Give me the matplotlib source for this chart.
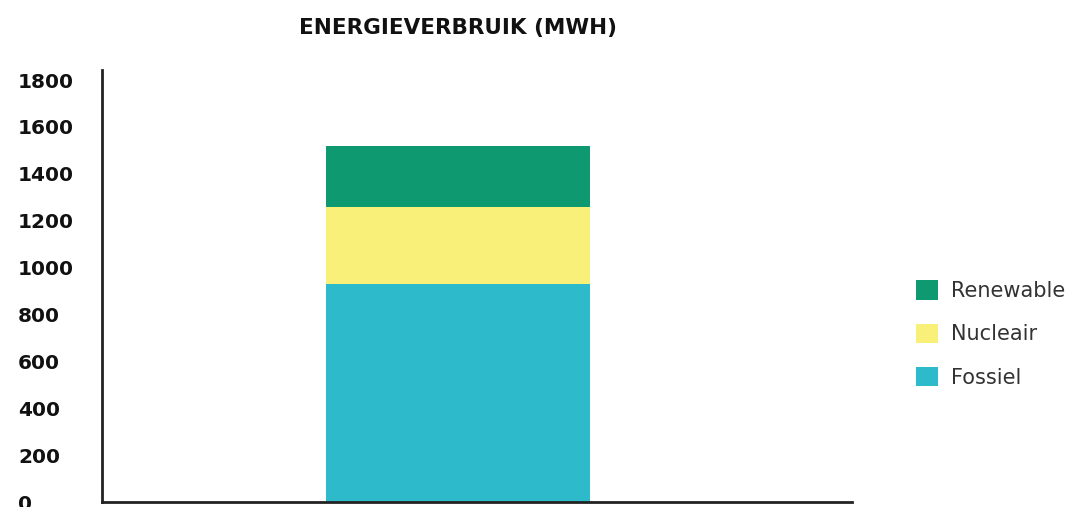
import matplotlib
matplotlib.use("Agg")
import matplotlib.pyplot as plt
from matplotlib.patches import Patch

categories = ["Energieverbruik"]
series_names = ["Fossiel", "Nucleair", "Renewable"]
fossiel = [930]
nucleair = [330]
renewable = [260]
colors = ["#2dbbcb", "#f8f078", "#0f9971"]
yticks = [0, 200, 400, 600, 800, 1000, 1200, 1400, 1600, 1800]

W, H = 1091, 507
fig = plt.figure(figsize=(W / 100, H / 100), dpi=100)
ax = fig.add_axes([102 / W, 5 / H, 750 / W, 432 / H])

bottom = [0] * len(categories)
handles = []
for name, vals, col in zip(series_names, [fossiel, nucleair, renewable], colors):
    ax.bar(range(len(categories)), vals, width=0.6, bottom=bottom, color=col, linewidth=0)
    bottom = [b + v for b, v in zip(bottom, vals)]
    handles.append(Patch(facecolor=col, edgecolor="none", label=name))

ax.set_xlim(-0.809, 0.895)
ax.set_ylim(0, 1843)
ax.set_xticks([])
ax.set_yticks(yticks)
ax.set_yticklabels([str(t) for t in yticks], fontfamily="DejaVu Sans", fontweight="bold",
                   fontsize=14.5, color="#111111")
ax.tick_params(axis="y", length=0, pad=60.5)
for lab in ax.get_yticklabels():
    lab.set_horizontalalignment("left")
for s in ["top", "right"]:
    ax.spines[s].set_visible(False)
for s in ["left", "bottom"]:
    ax.spines[s].set_linewidth(2)
    ax.spines[s].set_color("#222222")

fig.text(458 / W, 1 - 28 / H, "ENERGIEVERBRUIK (MWH)", ha="center", va="center",
         fontfamily="DejaVu Sans", fontweight="bold", fontsize=15.5, color="#111111")

leg = fig.legend(handles=handles[::-1], loc="upper left", bbox_to_anchor=(908 / W, 1 - 272 / H),
                 frameon=False, fontsize=15, handlelength=1.05, handleheight=1.05,
                 handletextpad=0.6, labelspacing=1.08, borderaxespad=0)
for t in leg.get_texts():
    t.set_color("#333333")
    t.set_fontfamily("DejaVu Sans")

fig.savefig("out.png", dpi=100)
